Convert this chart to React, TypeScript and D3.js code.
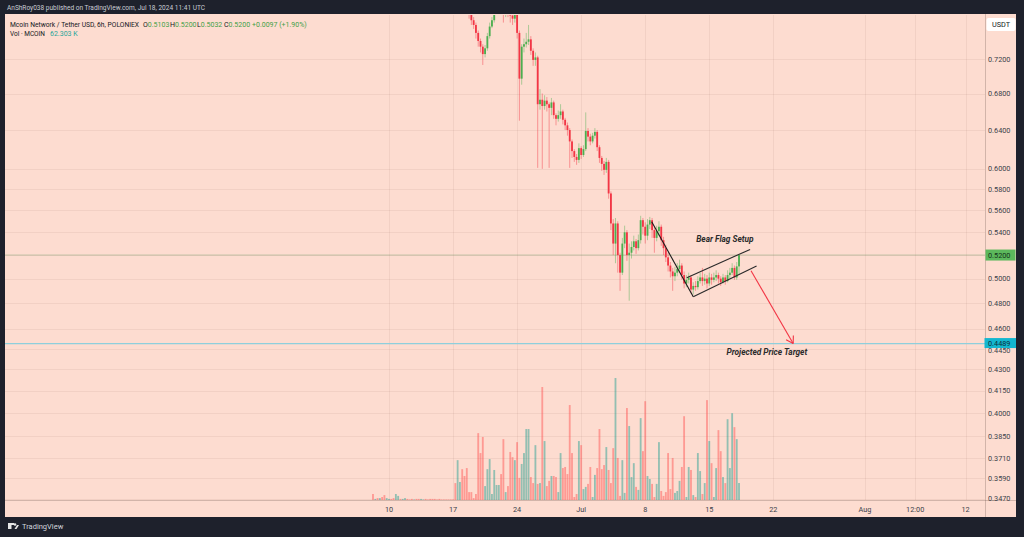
import React from "react";
import * as d3 from "d3";

const W = 1024;
const H = 537;

const headerText = "AnShRoy038 published on TradingView.com, Jul 18, 2024 11:41 UTC";
const symbolTitle = "Mcoin Network / Tether USD, 6h, POLONIEX";
const ohlcLabels = ["O", "H", "L", "C"];
const ohlcValues = ["0.5103", "0.5200", "0.5032", "0.5200"];
const changeText = "+0.0097 (+1.90%)";
const volLabel = "Vol · MCOIN";
const volValueText = "62.303 K";
const currencyLabel = "USDT";
const lastPrice = 0.52;
const targetPrice = 0.4489;

// 6h bars, index 0 = 2024-06-08 06:00 UTC
const seriesStartISO = "2024-06-08T06:00:00Z";
const barHours = 6;
const candleStartIndex = 42;
const firstOpen = 0.8;

const closes = [
  0.775, 0.768, 0.762, 0.752, 0.742, 0.735, 0.726, 0.733, 0.748, 0.76,
  0.768, 0.778, 0.785, 0.79, 0.782, 0.775, 0.785, 0.78, 0.774, 0.77,
  0.776, 0.752, 0.697, 0.735, 0.738, 0.741, 0.744, 0.73, 0.719, 0.722,
  0.668, 0.673, 0.666, 0.672, 0.668, 0.664, 0.67, 0.656, 0.652, 0.656,
  0.66, 0.651, 0.645, 0.64, 0.628, 0.618, 0.612, 0.609, 0.621, 0.614,
  0.62, 0.639, 0.633, 0.628, 0.634, 0.638, 0.622, 0.611, 0.605, 0.599,
  0.607, 0.576, 0.548, 0.53, 0.548, 0.52, 0.505, 0.53, 0.54, 0.52,
  0.522, 0.527, 0.532, 0.526, 0.533, 0.551, 0.545, 0.537, 0.547, 0.551,
  0.542, 0.535, 0.541, 0.545, 0.533, 0.526, 0.518, 0.511, 0.506, 0.502,
  0.505, 0.508, 0.511, 0.503, 0.496, 0.499, 0.501, 0.491, 0.494, 0.493,
  0.498, 0.501, 0.498, 0.5, 0.496, 0.501, 0.499, 0.501, 0.503, 0.5,
  0.497, 0.501, 0.498, 0.503, 0.505, 0.509, 0.501, 0.5103, 0.52,
];
const highs = [
  0.8, 0.782, 0.772, 0.765, 0.755, 0.745, 0.738, 0.737, 0.752, 0.765,
  0.772, 0.79, 0.8, 0.805, 0.8, 0.79, 0.795, 0.79, 0.785, 0.78,
  0.785, 0.778, 0.755, 0.738, 0.745, 0.752, 0.762, 0.748, 0.733, 0.728,
  0.724, 0.685, 0.68, 0.678, 0.676, 0.67, 0.675, 0.672, 0.658, 0.661,
  0.668, 0.662, 0.653, 0.648, 0.642, 0.63, 0.62, 0.615, 0.626, 0.623,
  0.624, 0.659, 0.642, 0.636, 0.637, 0.642, 0.64, 0.624, 0.613, 0.608,
  0.611, 0.609, 0.578, 0.552, 0.553, 0.55, 0.522, 0.535, 0.546, 0.542,
  0.53, 0.532, 0.537, 0.534, 0.538, 0.555, 0.553, 0.549, 0.552, 0.554,
  0.553, 0.545, 0.546, 0.55, 0.547, 0.536, 0.529, 0.522, 0.514, 0.509,
  0.51, 0.513, 0.516, 0.513, 0.506, 0.503, 0.505, 0.503, 0.497, 0.498,
  0.502, 0.505, 0.509, 0.504, 0.503, 0.505, 0.504, 0.505, 0.507, 0.505,
  0.502, 0.504, 0.503, 0.507, 0.509, 0.513, 0.511, 0.514, 0.52,
];
const lows = [
  0.77, 0.762, 0.757, 0.745, 0.735, 0.728, 0.713, 0.722, 0.73, 0.745,
  0.758, 0.765, 0.775, 0.78, 0.775, 0.765, 0.772, 0.772, 0.765, 0.762,
  0.765, 0.745, 0.65, 0.69, 0.728, 0.734, 0.737, 0.725, 0.712, 0.712,
  0.601, 0.662, 0.6, 0.662, 0.66, 0.601, 0.656, 0.652, 0.645, 0.649,
  0.652, 0.646, 0.64, 0.634, 0.601, 0.611, 0.607, 0.604, 0.606, 0.61,
  0.612, 0.618, 0.628, 0.624, 0.626, 0.631, 0.618, 0.606, 0.598, 0.594,
  0.596, 0.571, 0.542, 0.52, 0.513, 0.505, 0.49, 0.503, 0.526, 0.515,
  0.482, 0.517, 0.524, 0.521, 0.524, 0.53, 0.538, 0.53, 0.533, 0.543,
  0.535, 0.522, 0.532, 0.537, 0.528, 0.52, 0.514, 0.506, 0.501, 0.49,
  0.498, 0.502, 0.505, 0.499, 0.492, 0.493, 0.496, 0.488, 0.487, 0.49,
  0.491, 0.496, 0.494, 0.495, 0.492, 0.494, 0.495, 0.497, 0.498, 0.496,
  0.494, 0.496, 0.495, 0.497, 0.5, 0.503, 0.499, 0.499, 0.5032,
];

// volume in thousands MCOIN, index 0 = 2024-06-08 06:00
const volumes = [
  22, 4, 7, 7, 11, 18, 7, 4, 4, 7,
  22, 15, 4, 4, 7, 4, 2, 4, 2, 4,
  4, 4, 2, 4, 2, 4, 4, 4, 2, 4,
  2, 2, 2, 2, 2, 2,
  62, 146, 66, 113, 88, 117, 29, 29, 7, 22,
  245, 172, 231, 51, 113, 150, 22, 110, 55, 55,
  95, 223, 29, 51, 176, 157, 146, 212, 81, 132,
  172, 260, 260, 84, 62, 201, 59, 62, 414, 216,
  51, 70, 88, 88, 84, 29, 172, 117, 121, 95,
  348, 172, 11, 22, 216, 201, 40, 48, 59, 121,
  11, 92, 117, 260, 113, 128, 194, 110, 62, 190,
  447, 154, 15, 146, 26, 337, 271, 84, 135, 48,
  37, 300, 179, 362, 88, 77, 59, 11, 59, 212,
  33, 15, 29, 172, 40, 154, 26, 33, 70, 121,
  307, 11, 121, 110, 18, 11, 172, 106, 22, 62,
  366, 216, 135, 11, 117, 256, 179, 84, 62, 296,
  117, 318, 267, 223, 62.3,
];
// direction of the early bars (before the candles enter the visible range)
const earlyVolumeDirs = "dududduudd" + "uuduudddud" + "duuddddddd" + "dddddd" + "duuddd";

const priceTicks = [0.72, 0.68, 0.64, 0.6, 0.58, 0.56, 0.54, 0.52, 0.5, 0.48, 0.46, 0.445, 0.43, 0.415, 0.4, 0.385, 0.371, 0.359, 0.347];
const timeTickDates = ["2024-06-10T00:00:00Z", "2024-06-17T00:00:00Z", "2024-06-24T00:00:00Z", "2024-07-01T00:00:00Z", "2024-07-08T00:00:00Z", "2024-07-15T00:00:00Z", "2024-07-22T00:00:00Z", "2024-08-01T00:00:00Z", "2024-08-06T12:00:00Z", "2024-08-12T00:00:00Z"];
const timeTickLabels = ["10", "17", "24", "Jul", "8", "15", "22", "Aug", "12:00", "12"];

// drawing annotations: [time, price]
const poleLine = [["2024-07-08T17:00:00Z", 0.5496], ["2024-07-13T06:00:00Z", 0.4852]];
const flagUpper = [["2024-07-12T13:00:00Z", 0.5008], ["2024-07-19T11:00:00Z", 0.5249]];
const flagLower = [["2024-07-13T06:00:00Z", 0.4852], ["2024-07-20T04:00:00Z", 0.5106]];
const targetArrow = [["2024-07-19T13:30:00Z", 0.5066], ["2024-07-24T04:00:00Z", 0.4489]];
const bearFlagLabel = { text: "Bear Flag Setup", time: "2024-07-16T17:00:00Z", price: 0.534 };
const targetLabel = { text: "Projected Price Target", time: "2024-07-21T07:00:00Z", price: 0.4423 };

const C = {
  frame: "#1e212c",
  pane: "#fddcd0",
  grid: "rgba(120,80,70,0.08)",
  up: "#4caf50",
  down: "#f23645",
  upWick: "rgba(76,175,80,0.45)",
  downWick: "rgba(242,54,69,0.45)",
  volUp: "rgba(0,150,136,0.42)",
  volDown: "rgba(255,82,82,0.48)",
  text: "#131722",
  axisText: "#3b3f4a",
  green: "#43a047",
  teal: "#26a69a",
};

const FONT = "Roboto, 'Liberation Sans', sans-serif";

export default function App() {
  const paneL = 5, paneR = 985, paneT = 15, paneB = 500, outerR = 1016, outerB = 517, outerT = 14;
  const x = d3.scaleUtc().domain([new Date("2024-06-10T00:00:00Z"), new Date("2024-08-12T00:00:00Z")]).range([389, 965.5]);
  const y = d3.scaleLog().domain([0.3462, 0.7747]).range([paneB, paneT]);
  const vy = d3.scaleLinear().domain([0, 458]).range([paneB, 375]);
  const t0 = new Date(seriesStartISO).getTime();
  const timeAt = (i: number) => new Date(t0 + i * barHours * 3600 * 1000);
  const barW = x(timeAt(1)) - x(timeAt(0));
  const bodyW = barW * 0.8;

  const candles = closes.map((c, k) => {
    const i = candleStartIndex + k;
    const o = k === 0 ? firstOpen : closes[k - 1];
    return { i, o, c, h: highs[k], l: lows[k] };
  });

  const volDir = (i: number) => {
    if (i < candleStartIndex) return earlyVolumeDirs[i] === "u";
    const cd = candles[i - candleStartIndex];
    return cd.c >= cd.o;
  };

  const pt = (p: (string | number)[]) => [x(new Date(p[0] as string)), y(p[1] as number)];
  const line = (pts: (string | number)[][], stroke: string) => {
    const [a, b] = [pt(pts[0]), pt(pts[1])];
    return <line x1={a[0]} y1={a[1]} x2={b[0]} y2={b[1]} stroke={stroke} strokeWidth={1.1} />;
  };
  const arrowA = pt(targetArrow[0]);
  const arrowB = pt(targetArrow[1]);
  const ang = Math.atan2(arrowB[1] - arrowA[1], arrowB[0] - arrowA[0]);
  const hl = 8;
  const headL = [arrowB[0] - hl * Math.cos(ang - 0.55), arrowB[1] - hl * Math.sin(ang - 0.55)];
  const headR = [arrowB[0] - hl * Math.cos(ang + 0.55), arrowB[1] - hl * Math.sin(ang + 0.55)];

  const yLast = y(lastPrice);
  const yTarget = y(targetPrice);

  // legend layout
  const legendY = 26.5;
  const ohlcX = [143, 170, 197, 224];

  return (
    <svg width={W} height={H} style={{ position: "fixed", left: 0, top: 0, display: "block" }} fontFamily={FONT}>
      <defs>
        <clipPath id="pane">
          <rect x={paneL} y={paneT} width={paneR - paneL} height={paneB - paneT} />
        </clipPath>
      </defs>
      <rect x={0} y={0} width={W} height={H} fill={C.frame} />
      <text x={7} y={9.5} fontSize={7} fill="#c9ccd4" textLength={198} lengthAdjust="spacingAndGlyphs">{headerText}</text>
      <rect x={paneL} y={outerT} width={outerR - paneL} height={outerB - outerT} fill={C.pane} />

      {/* grid */}
      <g>
        {priceTicks.map((p) => (
          <line key={"hg" + p} x1={paneL} x2={paneR} y1={Math.round(y(p)) + 0.5} y2={Math.round(y(p)) + 0.5} stroke={C.grid} />
        ))}
        {timeTickDates.map((d) => (
          <line key={"vg" + d} y1={paneT} y2={paneB} x1={Math.round(x(new Date(d))) + 0.5} x2={Math.round(x(new Date(d))) + 0.5} stroke={C.grid} />
        ))}
      </g>

      <g clipPath="url(#pane)">
        {/* volume */}
        {volumes.map((v, i) => {
          const cx = x(timeAt(i));
          return (
            <rect key={"v" + i} x={cx - bodyW / 2} y={vy(v)} width={bodyW} height={paneB - vy(v)} fill={volDir(i) ? C.volUp : C.volDown} />
          );
        })}
        {/* last price line */}
        <line x1={paneL} x2={paneR} y1={yLast} y2={yLast} stroke="rgba(90,150,90,0.35)" strokeWidth={1} />
        {/* target line */}
        <line x1={paneL} x2={paneR} y1={yTarget} y2={yTarget} stroke="#8ecfdc" strokeWidth={1.2} />
        {/* candles */}
        {candles.map((cd) => {
          const cx = x(timeAt(cd.i));
          const up = cd.c >= cd.o;
          const top = y(Math.max(cd.o, cd.c));
          const bot = y(Math.min(cd.o, cd.c));
          return (
            <g key={"c" + cd.i}>
              <line x1={cx} x2={cx} y1={y(cd.h)} y2={y(cd.l)} stroke={up ? C.upWick : C.downWick} strokeWidth={1} />
              <rect x={cx - bodyW / 2} y={top} width={bodyW} height={Math.max(1, bot - top)} fill={up ? C.up : C.down} />
            </g>
          );
        })}
        {/* drawings */}
        {line(poleLine, "#1b1b1b")}
        {line(flagUpper, "#2a2a2a")}
        {line(flagLower, "#2a2a2a")}
        <line x1={arrowA[0]} y1={arrowA[1]} x2={arrowB[0]} y2={arrowB[1]} stroke="#f23645" strokeWidth={1.1} />
        <line x1={arrowB[0]} y1={arrowB[1]} x2={headL[0]} y2={headL[1]} stroke="#f23645" strokeWidth={1.1} />
        <line x1={arrowB[0]} y1={arrowB[1]} x2={headR[0]} y2={headR[1]} stroke="#f23645" strokeWidth={1.1} />
        <text x={x(new Date(bearFlagLabel.time))} y={y(bearFlagLabel.price) + 3} textAnchor="middle" fontSize={8.3} fontStyle="italic" fontWeight="bold" fill="#2b2b2b">{bearFlagLabel.text}</text>
        <text x={x(new Date(targetLabel.time))} y={y(targetLabel.price) + 3} textAnchor="middle" fontSize={8.3} fontStyle="italic" fontWeight="bold" fill="#2b2b2b">{targetLabel.text}</text>
      </g>

      {/* legend */}
      <text x={10} y={legendY} fontSize={7} fill={C.text} textLength={129} lengthAdjust="spacingAndGlyphs">{symbolTitle}</text>
      {ohlcLabels.map((l, k) => (
        <text key={"ol" + l} x={ohlcX[k]} y={legendY} fontSize={7} fill={C.text}>
          {l}
          <tspan fill={C.green}>{ohlcValues[k]}</tspan>
        </text>
      ))}
      <text x={252} y={legendY} fontSize={7} fill={C.green}>{changeText}</text>
      <text x={10} y={legendY + 9} fontSize={7} fill={C.text} textLength={35} lengthAdjust="spacingAndGlyphs">{volLabel}</text>
      <text x={50} y={legendY + 9} fontSize={7} fill={C.teal}>{volValueText}</text>

      {/* axes separators */}
      <line x1={paneR + 0.5} x2={paneR + 0.5} y1={outerT} y2={outerB} stroke="rgba(60,40,30,0.22)" />
      <line x1={paneL} x2={outerR} y1={paneB + 0.5} y2={paneB + 0.5} stroke="rgba(60,40,30,0.22)" />

      {/* price axis labels */}
      {priceTicks.map((p) => (
        <text key={"pt" + p} x={988} y={y(p) + 2.6 + (p === 0.445 ? 1.5 : 0)} fontSize={7.3} fill={C.axisText}>{p.toFixed(4)}</text>
      ))}
      <rect x={986.5} y={18} width={29} height={13} rx={2} fill="#ffffff" />
      <text x={1001} y={27.3} textAnchor="middle" fontSize={7.3} fill={C.text}>{currencyLabel}</text>
      <rect x={985.5} y={yLast - 5.5} width={30} height={11} fill="#5cb85c" />
      <text x={988} y={yLast + 2.6} fontSize={7.3} fill="#14331a">{lastPrice.toFixed(4)}</text>
      <rect x={984.5} y={yTarget - 5.5} width={31.5} height={10} fill="#13b6cf" />
      <text x={988} y={yTarget + 2.6} fontSize={7.3} fill="#0b2e3a">{targetPrice.toFixed(4)}</text>

      {/* time axis labels */}
      {timeTickDates.map((d, k) => (
        <text key={"tt" + d} x={x(new Date(d))} y={511.5} textAnchor="middle" fontSize={7.3} fill={C.axisText}>{timeTickLabels[k]}</text>
      ))}

      {/* footer logo */}
      <g transform="translate(8,523)">
        <rect x={0} y={0} width={3.5} height={6} fill="#e6e6e6" />
        <rect x={0} y={0} width={6} height={2} fill="#e6e6e6" />
        <circle cx={7} cy={1.5} r={1.3} fill="#e6e6e6" />
        <path d="M6.5,6 L9,2 L11,2 L8.5,6 Z" fill="#e6e6e6" />
        <text x={14} y={6} fontSize={7.5} fill="#d1d4dc">TradingView</text>
      </g>
    </svg>
  );
}
